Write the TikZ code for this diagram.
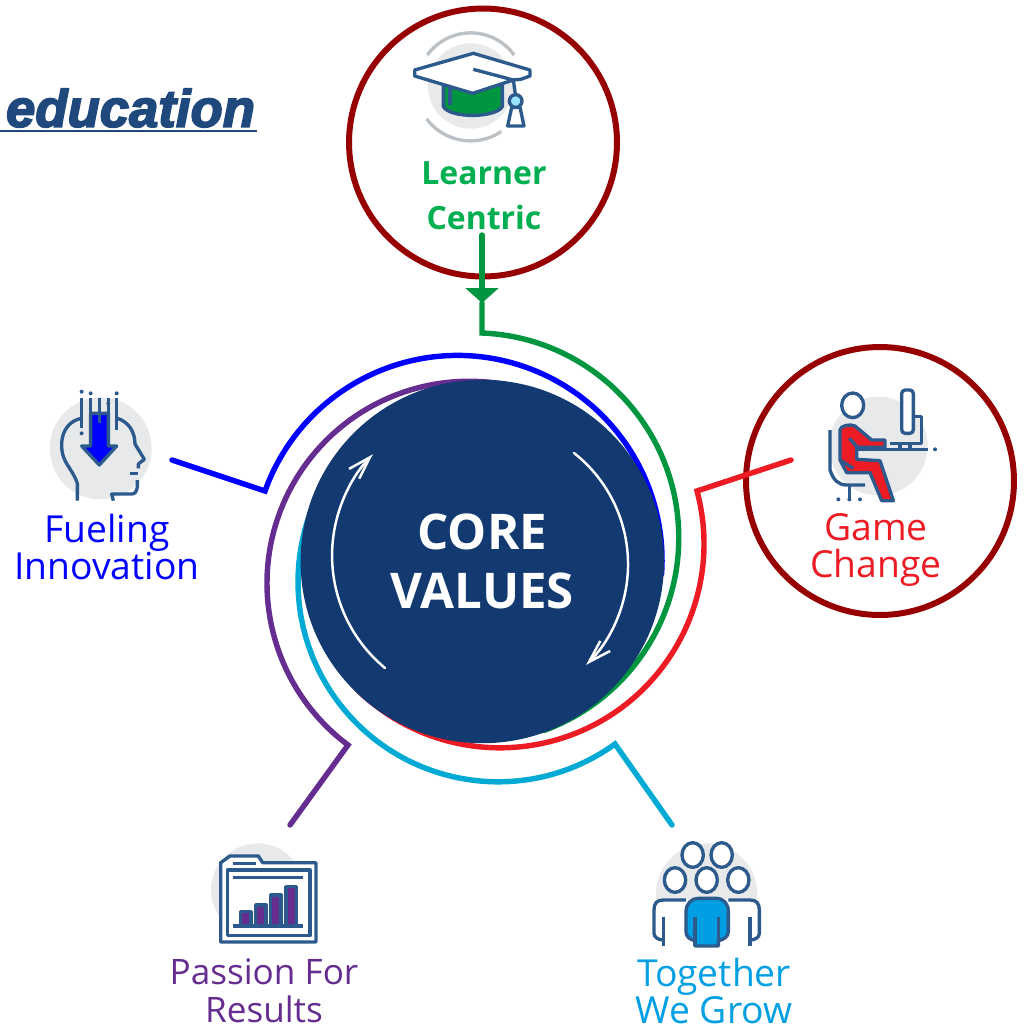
\documentclass[tikz,border=0pt]{standalone}
\usepackage{fontspec}
\setmainfont{Open Sans}
\newfontfamily\edufont[BoldItalicFeatures={FakeBold=3.2}]{Liberation Sans}
\usetikzlibrary{arrows.meta,shadows}
\definecolor{ringred}{HTML}{960000}
\definecolor{coredisk}{HTML}{123A70}
\definecolor{edublue}{HTML}{1F497D}
\definecolor{iconline}{HTML}{2C5A8C}
\definecolor{iconback}{HTML}{E7E9EB}
\definecolor{iconarc}{HTML}{BCC1C6}
\definecolor{learnergreen}{HTML}{00953F}
\definecolor{learnertext}{HTML}{00B050}
\definecolor{gamered}{HTML}{ED1C24}
\definecolor{passionpurple}{HTML}{662D91}
\definecolor{growcyan}{HTML}{00AAD4}
\definecolor{growtext}{HTML}{009FE3}
\definecolor{fuelblue}{HTML}{0000FF}
\begin{document}
\begin{tikzpicture}[x=0.02cm,y=-0.02cm,
  ring/.style={shape=circle, draw=ringred, fill=white, line width=3.4pt,
    minimum size=5.36cm, drop shadow={opacity=.25, shadow xshift=.8pt, shadow yshift=-.8pt}},
  corelink/.style={line width=3.1pt, line join=miter, line cap=round},
  turnarrow/.style={white, line width=1.4pt, line cap=round},
  caption/.style={align=center, inner sep=0pt, font=\fontsize{21.2}{21.5}\selectfont},
  strong/.style={align=center, inner sep=0pt, font=\fontsize{18.2}{25.5}\selectfont\bfseries},
  icon/.style={draw=iconline, line width=1.9pt, line join=round}]
  \useasboundingbox (0,0) rectangle (1026,1025);

  \node (edu) at (130.5,108) [inner sep=0pt, text=edublue, font=\fontsize{30}{31}\edufont\bfseries\itshape] {education};
  \coordinate (eduleft) at (0,131);
  \coordinate (eduright) at (257,131);
  \draw [edublue, line width=1.3pt] (eduleft) -- (eduright);

  \node (learner) at (483,142.5) [ring] {};
  \node (game) at (880,481) [ring] {};

  % connectors go under the disk
  \coordinate (learnerfoot) at (482,235);
  \coordinate (learnertip) at (482,303);
  \coordinate (learnerknee) at (482,333);
  \coordinate (fuelfoot) at (172,460);
  \coordinate (fuelknee) at (265,491);
  \coordinate (gamefoot) at (791,460);
  \coordinate (gameknee) at (697,491);
  \coordinate (growfoot) at (672,825);
  \coordinate (growknee) at (615,744);
  \coordinate (passionfoot) at (290,825);
  \coordinate (passionknee) at (348,745);
  \draw [corelink, learnergreen, -{Triangle[length=8.5pt,width=18.5pt]}] (learnerfoot) -- (learnertip);
  \draw [corelink, learnergreen] (learnertip) -- (learnerknee) arc[start angle=-87.7, end angle=70, radius=205];
  \draw [corelink, fuelblue] (fuelfoot) -- (fuelknee) arc[start angle=199.7, end angle=364, radius=204.5];
  \draw [corelink, gamered] (gamefoot) -- (gameknee) arc[start angle=-15, end angle=135, radius=204];
  \draw [corelink, growcyan] (growfoot) -- (growknee) arc[start angle=54.2, end angle=232, radius=200];
  \draw [corelink, passionpurple] (passionfoot) -- (passionknee) arc[start angle=126.8, end angle=300, radius=202];

  \node (core) at (482.3,561.5) [shape=circle, fill=coredisk, minimum size=7.27cm, inner sep=0pt,
    align=center, text=white, font=\fontsize{28}{34}\selectfont\bfseries] {CORE\\VALUES};
  \coordinate (turnleft) at (385,668);
  \coordinate (turnright) at (574,453);
  \draw [turnarrow, -{Straight Barb[length=13pt,width=8pt]}] (turnleft) arc[start angle=129.6, end angle=223.9, radius=146];
  \draw [turnarrow, -{Straight Barb[length=13pt,width=8pt]}] (turnright) arc[start angle=-51.8, end angle=45.3, radius=141.6];

  \node (learnercap) at (484,195.5) [strong, text=learnertext] {Learner\\Centric};
  \node (fuelcap) at (107,547) [caption, text=fuelblue] {Fueling\\Innovation};
  \node (gamecap) at (876,550) [caption, text=gamered] {Game\\Change};
  \node (passioncap) at (264,991) [caption, text=passionpurple, font=\fontsize{20}{21.5}\selectfont] {Passion For\\Results};
  \node (growcap) at (714,991) [caption, text=growtext] {Together\\We Grow};

  % icons are typed at three times their size
  \begin{scope}[shift={(340,0)},scale=1/3]
    \fill [iconback] (392,258) circle[radius=128];
    \draw [iconarc, line width=1.9pt] (262,165) arc[start angle=216, end angle=324, radius=161];
    \draw [iconarc, line width=1.9pt] (260,357) arc[start angle=143, end angle=56, radius=165];
    \filldraw [icon, fill=learnergreen] (310,255) -- (310,320) .. controls (330,355) and (465,355) .. (487,320) -- (487,255) -- cycle;
    \draw [icon] (330,262) -- (330,315);
    \filldraw [icon, fill=white] (224,210) -- (400,160) -- (570,210) -- (570,228) -- (542,238) -- (520,240) -- (398,280) -- (224,228) -- cycle;
    \draw [icon] (400,208) -- (520,240) -- (527,290);
    \filldraw [icon, fill=white] (515,322) -- (503,378) -- (552,378) -- (540,322) -- cycle;
    \filldraw [icon, fill=blue!25!cyan!40] (527,303) circle[radius=19];
  \end{scope}

  \begin{scope}[shift={(0,370)},scale=1/3]
    \fill [iconback] (302,235) circle[radius=153];
    \draw [icon] (232,392) -- (232,340) .. controls (215,290) and (185,280) .. (185,225) .. controls (185,175) and (215,150) .. (245,145);
    \draw [icon] (352,145) .. controls (385,155) and (405,185) .. (405,222) -- (433,268) -- (415,282) -- (415,295);
    \draw [icon] (390,310) -- (415,310);
    \draw [icon] (412,330) -- (412,350) .. controls (410,365) and (405,372) .. (395,372) -- (335,372) -- (340,392);
    \filldraw [icon, fill=fuelblue] (272,130) -- (325,130) -- (325,228) -- (350,228) -- (298,285) -- (245,228) -- (272,228) -- cycle;
    \foreach \linex/\liney in {245/175,272/130,298/160,325/130,350/180}
      \draw [icon] (\linex,85) -- (\linex,\liney);
    \foreach \dotx/\doty in {245/65,272/70,350/70,325/100,245/190}
      \fill [iconline] (\dotx,\doty) circle[radius=6];
  \end{scope}

  \begin{scope}[shift={(690,340)},scale=1/3]
    \fill [iconback] (565,318) circle[radius=148];
    \filldraw [icon, fill=white] (488,196) ellipse[x radius=33, y radius=37];
    \filldraw [icon, fill=gamered] (450,270) .. controls (450,258) and (480,250) .. (495,258) -- (545,300) -- (585,300) -- (585,322) -- (500,322) -- (500,358) -- (570,362) -- (610,482) -- (575,482) -- (540,398) -- (470,398) -- (450,360) -- cycle;
    \draw [icon] (478,295) -- (505,325);
    \draw [icon] (450,360) -- (490,385);
    \draw [icon] (420,270) -- (420,390) .. controls (430,420) and (445,435) .. (470,435) -- (525,435);
    \draw [icon] (478,435) -- (478,478);
    \draw [icon] (500,328) -- (715,328);
    \foreach \dotx in {445,478,510,735}
      \fill [iconline] (\dotx,{\dotx==735 ? 328 : 478}) circle[radius=6];
    \filldraw [icon, fill=white, rounded corners=2pt] (635,150) -- (670,150) -- (670,280) -- (635,280) -- cycle;
    \draw [icon] (670,230) -- (695,230) -- (695,310) -- (600,310);
    \draw [icon] (630,310) -- (630,328);
    \draw [icon] (660,310) -- (660,328);
  \end{scope}

  \begin{scope}[shift={(150,820)},scale=1/3]
    \fill [iconback] (323,210) circle[radius=140];
    \filldraw [icon, fill=white] (212,128) -- (240,108) -- (325,108) -- (338,128) -- (498,128) -- (498,366) -- (212,366) -- cycle;
    \draw [icon] (232,150) rectangle (480,347);
    \draw [icon] (250,130) -- (318,130);
    \draw [icon] (250,172) -- (460,172);
    \foreach \barleft/\bartop in {272/275,317/255,362/225,408/200}
      \filldraw [icon, fill=passionpurple] (\barleft,318) rectangle (\barleft+31,\bartop);
    \draw [icon] (250,318) -- (460,318);
  \end{scope}

  \begin{scope}[shift={(610,820)},scale=1/3]
    \fill [iconback] (290,222) circle[radius=152];
    \fill [white] (130,238) rectangle (450,380);
    \foreach \headx/\heady in {248/105,335/105,195/180,290/180,385/180}
      \filldraw [icon, fill=white] (\headx,\heady) ellipse[x radius=32, y radius=37];
    \draw [icon] (228,240) -- (160,240) .. controls (140,240) and (132,250) .. (132,270) -- (132,340) .. controls (132,352) and (145,360) .. (160,360);
    \draw [icon] (355,240) -- (420,240) .. controls (440,240) and (448,250) .. (448,270) -- (448,340) .. controls (448,352) and (435,360) .. (420,360);
    \draw [icon] (160,290) -- (160,378);
    \draw [icon] (420,290) -- (420,378);
    \filldraw [icon, fill=growtext] (255,378) -- (255,362) .. controls (238,358) and (228,350) .. (228,335) -- (228,275) .. controls (228,250) and (245,235) .. (265,235) -- (318,235) .. controls (340,235) and (355,250) .. (355,275) -- (355,335) .. controls (355,350) and (342,358) .. (325,362) -- (325,378) -- cycle;
    \draw [icon] (255,290) -- (255,378);
    \draw [icon] (325,290) -- (325,378);
  \end{scope}
\end{tikzpicture}
\end{document}
